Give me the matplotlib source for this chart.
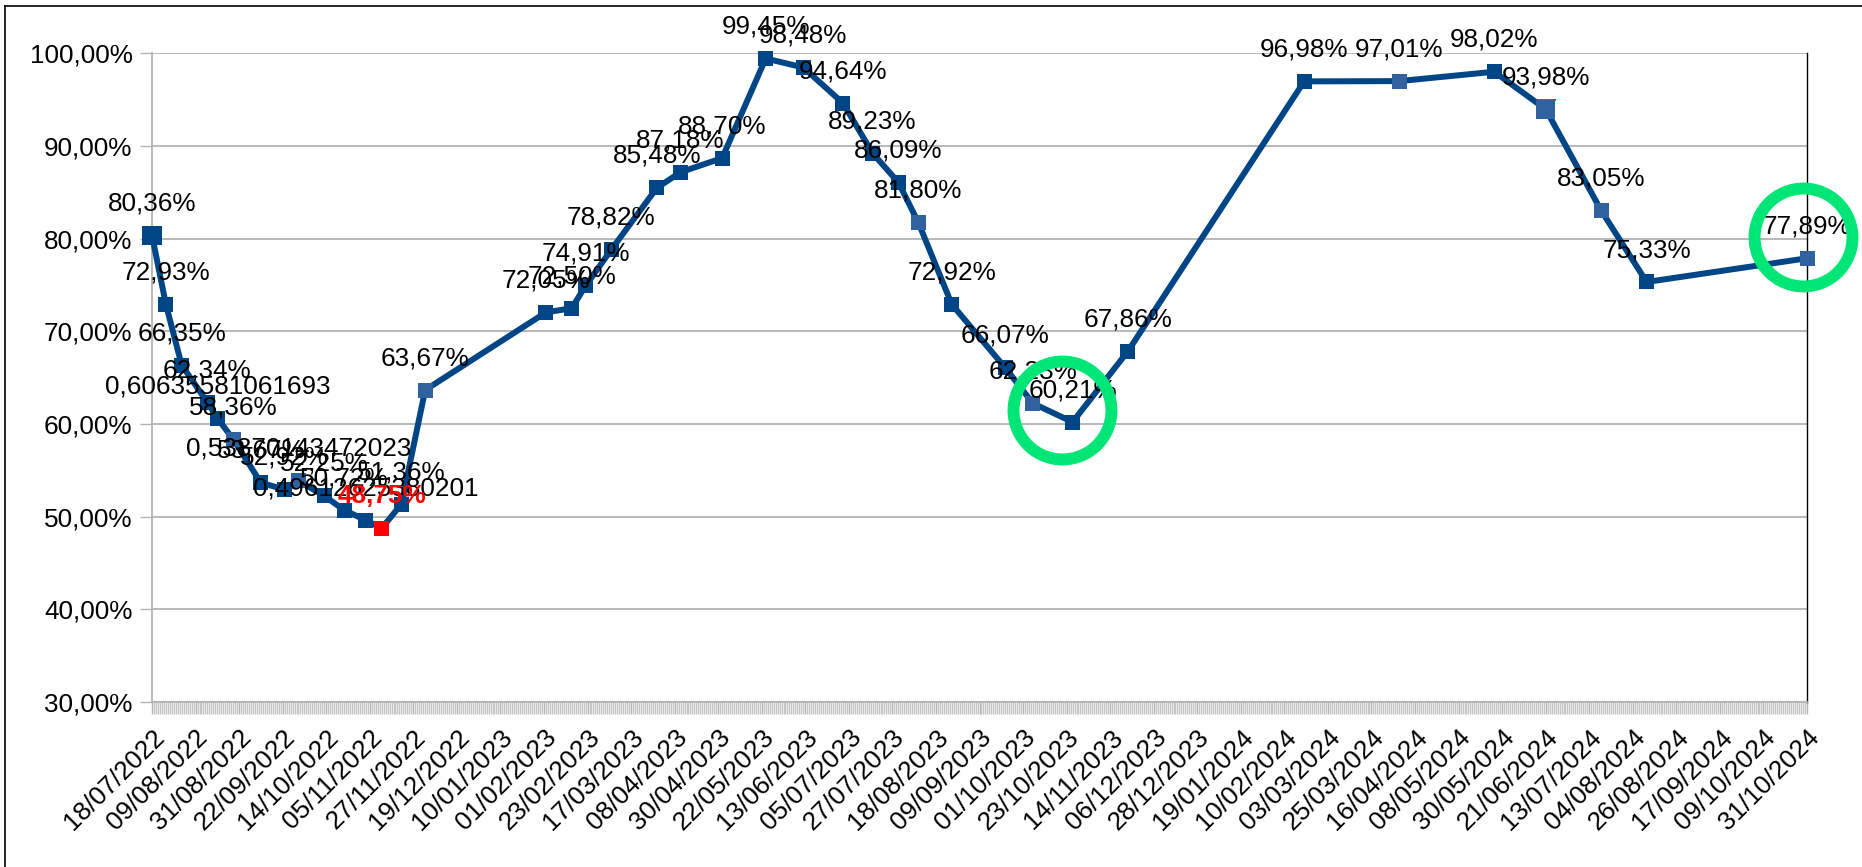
import numpy as np
import pandas as pd
import matplotlib
matplotlib.use("Agg")
import matplotlib.pyplot as plt
import matplotlib.dates as mdates
from matplotlib.lines import Line2D
from matplotlib.transforms import offset_copy
from matplotlib.ticker import FuncFormatter

plt.rcParams["font.family"] = ["Liberation Sans", "DejaVu Sans"]

# measurement dates and values (%)
dates = [
    "2022-07-18", "2022-07-25", "2022-08-02", "2022-08-15", "2022-08-20",
    "2022-08-28", "2022-09-11", "2022-09-23", "2022-09-30", "2022-10-13",
    "2022-10-23", "2022-11-03", "2022-11-11", "2022-11-21", "2022-12-03",
    "2023-02-02", "2023-02-15", "2023-02-22", "2023-03-07", "2023-03-30",
    "2023-04-11", "2023-05-02", "2023-05-24", "2023-06-12", "2023-07-02",
    "2023-07-17", "2023-07-30", "2023-08-09", "2023-08-26", "2023-09-22",
    "2023-10-06", "2023-10-26", "2023-11-23", "2024-02-20", "2024-04-08",
    "2024-05-26", "2024-06-21", "2024-07-19", "2024-08-11", "2024-10-31",
]
values = [
    80.36, 72.93, 66.35, 62.34, 60.635581061693,
    58.36, 53.67, 52.92, 53.870143472023, 52.25,
    50.72, 49.612625380201, 48.75, 51.36, 63.67,
    72.05, 72.50, 74.91, 78.82, 85.48,
    87.18, 88.70, 99.45, 98.48, 94.64,
    89.23, 86.09, 81.80, 72.92, 66.07,
    62.23, 60.21, 67.86, 96.98, 97.01,
    98.02, 93.98, 83.05, 75.33, 77.89,
]
# a few labels were left unformatted in the source sheet
raw_labels = {4: "0,60635581061693", 8: "0,53870143472023", 11: "0,49612625380201"}
light_points = [5, 8, 14, 27, 30, 34, 36, 37, 39]
big_points = [0, 36]
red_point = 12
circled_points = [31, 39]

DARK = "#004586"
LIGHT = "#3062a0"
GRID = "#b3b3b3"
GREEN = "#00e676"
FS = 18.8

x = pd.to_datetime(dates)
W, H = 1862, 867
fig = plt.figure(figsize=(W / 100, H / 100), dpi=100)
ax = fig.add_axes([152 / W, 1 - 702 / H, (1807 - 152) / W, (702 - 53.4) / H])

ax.plot(x, values, color=DARK, lw=4.3, zorder=3, clip_on=False)

colors = [LIGHT if i in light_points else DARK for i in range(len(values))]
colors[red_point] = "#ff0000"
sizes = [(13.7 if i in big_points else 10.8) ** 2 for i in range(len(values))]

# thin red edge peeking above the 93,98% marker
ax.plot([x[36]], [values[36]], marker="_", ms=13.7, mew=1.2, color="#ff0000",
        zorder=3.5, clip_on=False,
        transform=offset_copy(ax.transData, fig, x=0, y=9.5, units="dots"))
ax.scatter(x, values, s=sizes, marker="s", c=colors, lw=0, zorder=4, clip_on=False)

for i, (d, v) in enumerate(zip(x, values)):
    txt = raw_labels.get(i, f"{v:.2f}%".replace(".", ","))
    kw = dict(color="black", fontsize=FS)
    if i == red_point:
        kw = dict(color="#ff0000", fontsize=FS, fontweight="bold")
    ax.annotate(txt, (d, v), xytext=(0, 23), textcoords="offset points",
                ha="center", va="center", zorder=6, annotation_clip=False, **kw)

# green highlight rings
ring_offsets = {31: (-11, 12), 39: (-4, 21)}
for i in circled_points:
    dx, dy = ring_offsets[i]
    tr = offset_copy(ax.transData, fig, x=dx, y=dy, units="dots")
    ax.plot([x[i]], [values[i]], marker="o", ms=70.5, mfc="none", mec=GREEN,
            mew=8.6, transform=tr, clip_on=False, zorder=7)

# axes
ax.set_ylim(30, 100)
ax.set_yticks(np.arange(30, 101, 10))
ax.yaxis.set_major_formatter(FuncFormatter(lambda v, p: f"{v:.2f}%".replace(".", ",")))
ax.set_xlim(x[0], x[-1])
ticks = pd.date_range("2022-07-18", "2024-10-31", freq="22D")
ax.set_xticks(ticks)
ax.set_xticklabels([t.strftime("%d/%m/%Y") for t in ticks], rotation=45,
                   ha="right", va="top", rotation_mode="anchor")
ax.xaxis.set_minor_locator(mdates.DayLocator())
ax.tick_params(axis="both", which="both", direction="out", length=8.6,
               color=GRID, width=1, labelsize=FS, pad=5.5)
ax.tick_params(axis="x", which="major", pad=8)
ax.tick_params(axis="x", which="minor", width=1.0, color="#c4c4c4")

ax.grid(axis="y", color=GRID, lw=1.3)
ax.set_axisbelow(True)
for s in ("left", "bottom"):
    ax.spines[s].set_color(GRID)
    ax.spines[s].set_linewidth(1.3)
ax.spines["top"].set_visible(False)
ax.spines["right"].set_color("black")
ax.spines["right"].set_linewidth(1)

# outer frame of the chart object
fig.add_artist(Line2D([5 / W, 5 / W], [0, 1 - 6 / H], color="black", lw=1.2))
fig.add_artist(Line2D([5 / W, 1], [1 - 6 / H, 1 - 6 / H], color="black", lw=1.2))

fig.savefig("out.png", dpi=100)
